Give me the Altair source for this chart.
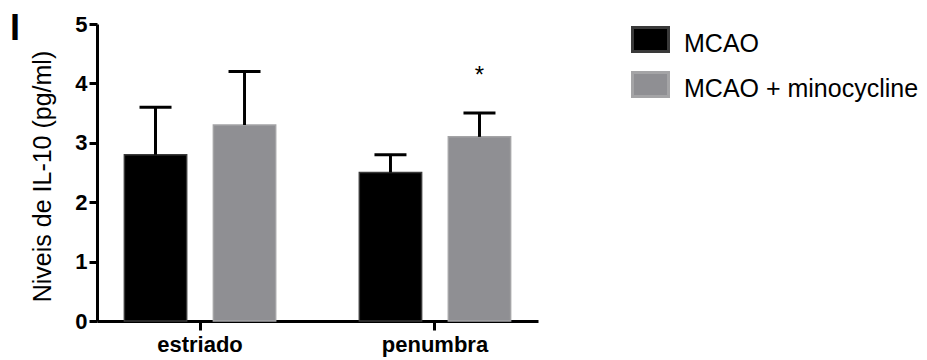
import altair as alt
import pandas as pd

sites = ["estriado", "estriado", "penumbra", "penumbra"]
groups = ["MCAO", "MCAO + minocycline", "MCAO", "MCAO + minocycline"]
means = [2.8, 3.3, 2.5, 3.1]
uppers = [3.6, 4.2, 2.8, 3.5]

group_order = ["MCAO", "MCAO + minocycline"]
site_order = ["estriado", "penumbra"]

star_site = ["penumbra"]
star_group = ["MCAO + minocycline"]
star_y = [4.0]
star_text = ["*"]

panel_label = ["I"]
y_title = "Niveis de IL-10 (pg/ml)"

FONT = "Liberation Sans"

df = pd.DataFrame({"site": sites, "group": groups, "mean": means, "upper": uppers})
star_df = pd.DataFrame({"site": star_site, "group": star_group, "y": star_y, "t": star_text})
lab_df = pd.DataFrame({"t": panel_label})

x_enc = alt.X(
    "site:N",
    sort=site_order,
    scale=alt.Scale(domain=site_order, paddingInner=0.356, paddingOuter=0.1165),
    axis=alt.Axis(
        title=None, labelAngle=0, labelFont=FONT, labelFontSize=22, labelFontWeight="bold",
        labelColor="black", domainColor="black", domainWidth=3, tickColor="black",
        tickWidth=3, tickSize=9, labelPadding=4, grid=False,
    ),
)
xo_enc = alt.XOffset(
    "group:N", sort=group_order,
    scale=alt.Scale(domain=group_order, paddingInner=0.3, paddingOuter=0),
)
y_scale = alt.Scale(domain=[0, 5], nice=False, zero=True)

legend_kw = dict(
    title=None, orient="none", legendX=534, legendY=0.5, padding=0,
    symbolType="M-1,-0.917H1V0.417H-1Z", symbolSize=1296, symbolStrokeWidth=3,
    symbolOpacity=1, labelFont=FONT, labelFontSize=25, labelColor="black",
    labelOffset=14, labelLimit=0, rowPadding=7,
)

base = alt.Chart(df)

bars = base.mark_bar(strokeWidth=1.5).encode(
    x=x_enc,
    xOffset=xo_enc,
    y=alt.Y(
        "mean:Q", scale=y_scale,
        axis=alt.Axis(
            title=y_title, values=[0, 1, 2, 3, 4, 5], format="d", grid=False,
            labelFont=FONT, labelFontSize=22, labelFontWeight="bold", labelColor="black",
            domainColor="black", domainWidth=3, tickColor="black", tickWidth=3, tickSize=8,
            labelPadding=2, titleFont=FONT, titleFontSize=25, titleFontWeight="normal",
            titleColor="black", titleX=-55, titleY=152, titleAngle=270,
            titleAlign="center", titleBaseline="middle",
        ),
    ),
    fill=alt.Fill(
        "group:N",
        scale=alt.Scale(domain=group_order, range=["#000000", "#8f8f93"]),
        legend=alt.Legend(**legend_kw),
    ),
    stroke=alt.Stroke(
        "group:N", scale=alt.Scale(domain=group_order, range=["#3a3a3a", "#a4a4a6"]),
        legend=alt.Legend(**legend_kw),
    ),
)

stems = base.mark_rule(color="black", strokeWidth=3).encode(
    x=alt.X("site:N", sort=site_order),
    xOffset=alt.XOffset("group:N", sort=group_order),
    y=alt.Y("mean:Q"),
    y2="upper:Q",
)

caps = base.mark_tick(color="black", thickness=3, size=32, opacity=1).encode(
    x=alt.X("site:N", sort=site_order),
    xOffset=alt.XOffset("group:N", sort=group_order),
    y=alt.Y("upper:Q"),
)

star = alt.Chart(star_df).mark_text(
    font=FONT, fontSize=24, color="black", baseline="alphabetic", align="center"
).encode(
    x=alt.X("site:N", sort=site_order),
    xOffset=alt.XOffset("group:N", sort=group_order),
    y=alt.Y("y:Q"),
    text="t:N",
)

panel = alt.Chart(lab_df).mark_text(
    font=FONT, fontSize=36, fontWeight="bold", color="black", align="left", baseline="alphabetic"
).encode(
    x=alt.value(-87),
    y=alt.value(16),
    text="t:N",
)

chart = (
    alt.layer(bars, stems, caps, star, panel)
    .properties(
        width=441, height=297,
        autosize=alt.AutoSizeParams(type="none"),
        padding={"left": 89, "top": 16, "right": 381, "bottom": 45},
        background="white",
    )
    .configure_view(stroke=None)
)

chart.save("out.html", embed_options={"renderer": "svg", "actions": False})
